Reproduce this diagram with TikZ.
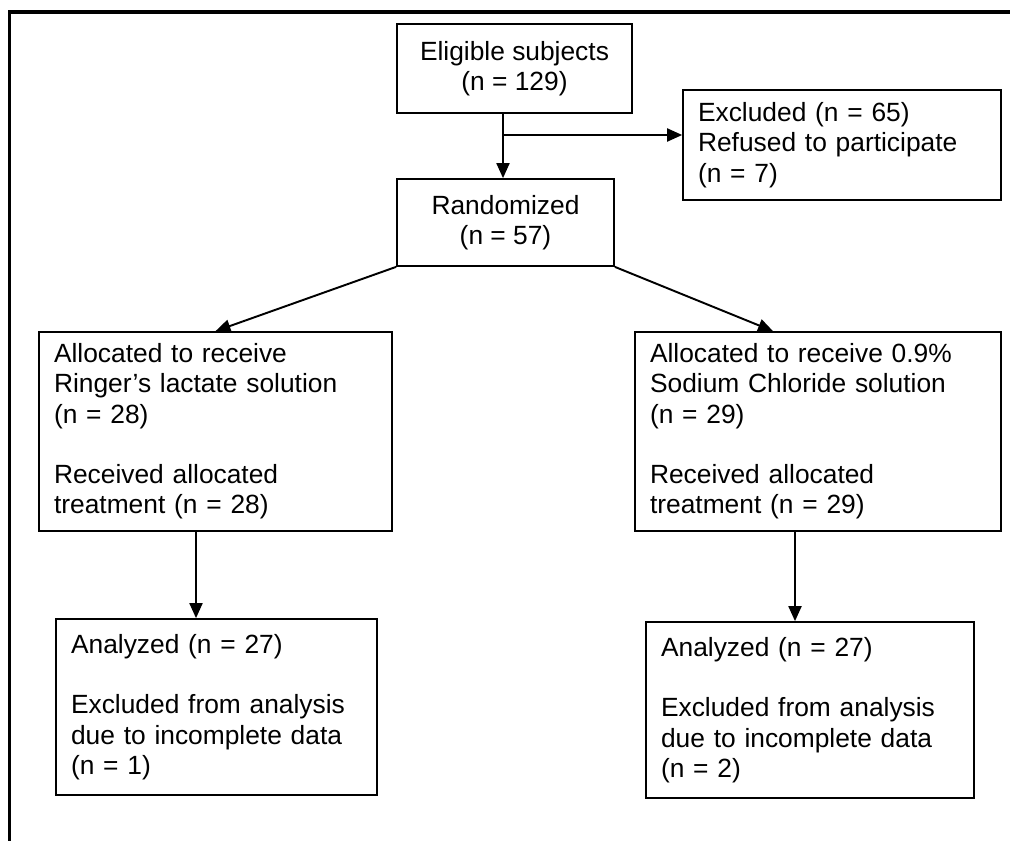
\documentclass[tikz,border=0pt]{standalone}
\usepackage{fontspec}
\setmainfont{Liberation Sans}
\usetikzlibrary{arrows.meta, positioning}

\tikzset{
  box/.style={draw, line width=1pt, inner xsep=0.3cm, inner ysep=0pt,
    font=\fontsize{15}{17.2}\selectfont},
  lbox/.style={box, align=left},
  arr/.style={line width=1.1pt, -{Triangle[length=0.3cm, width=0.26cm]}},
}

\begin{document}
\begin{tikzpicture}[x=0.02cm, y=-0.02cm]
\useasboundingbox (0,0) rectangle (1010,841);

% frame
\draw [line width=1.8pt] (9.5,841) -- (9.5,12) -- (1010,12);

% nodes
\node [box, align=center, minimum width=4.7cm, minimum height=1.78cm] (E) at (514.5, 68.5) {Eligible subjects\\(n = 129)};
\node [lbox, text width=5.76cm, minimum height=2.2cm] (X) at (842, 145) {Excluded (n = 65)\\Refused to participate\\(n = 7)};
\node [box, align=center, minimum width=4.34cm, minimum height=1.74cm] (Rnd) at (505.5, 222.5) {Randomized\\(n = 57)};

\node [lbox, text width=6.46cm, minimum height=3.98cm] (L) at (215.5, 431.5) {Allocated to receive\\Ringer’s lactate solution\\(n = 28)\\[17.2pt]Received allocated\\treatment (n = 28)};
\node [lbox, text width=6.72cm, minimum height=3.98cm] (R) at (818, 431.5) {Allocated to receive 0.9\%\\Sodium Chloride solution\\(n = 29)\\[17.2pt]Received allocated\\treatment (n = 29)};

\node [lbox, text width=5.82cm, minimum height=3.52cm] (L2) at (216.5, 707) {Analyzed (n = 27)\\[17.2pt]Excluded from analysis\\due to incomplete data\\(n = 1)};
\node [lbox, text width=5.96cm, minimum height=3.52cm] (R2) at (810, 710) {Analyzed (n = 27)\\[17.2pt]Excluded from analysis\\due to incomplete data\\(n = 2)};

\coordinate (b) at (503, 135);
\coordinate (t) at (773, 0);
\coordinate (dl) at (196, 0);
\coordinate (dr) at (795, 0);

% arrows
\draw [arr] (E.south -| b) -- (Rnd.north -| b);
\draw [arr] (b) -- (b -| X.west);
\draw [arr] (Rnd.south west) -- (L.north);
\draw [arr] (Rnd.south east) -- (R.north -| t);
\draw [arr] (L.south -| dl) -- (L2.north -| dl);
\draw [arr] (R.south -| dr) -- (R2.north -| dr);

\end{tikzpicture}
\end{document}
